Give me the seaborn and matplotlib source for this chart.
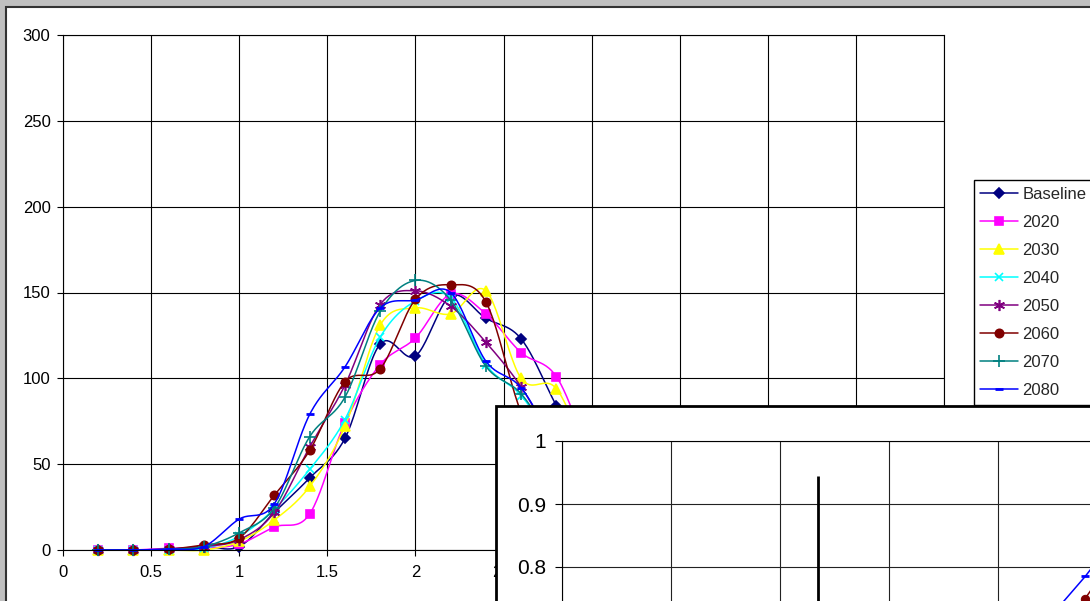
import numpy as np
import pandas as pd
import matplotlib
matplotlib.use("Agg")
import matplotlib.pyplot as plt
from matplotlib.patches import Rectangle
from matplotlib.lines import Line2D
import seaborn as sns

# ---------------- data ----------------
x_values = [0.2, 0.4, 0.6, 0.8, 1.0, 1.2, 1.4, 1.6, 1.8, 2.0, 2.2, 2.4, 2.6, 2.8, 3.0, 3.2, 3.4, 3.6]
baseline = [0, 0, 0.5, 2, 2, 22, 42, 65, 120, 113, 148, 135, 123, 84, 45, 20, 8, 2]
s2020 = [0, 0, 1, 1, 3.5, 13.4, 21, 74, 108, 123.5, 149, 137.5, 115, 101, 55, 25, 10, 3]
s2030 = [0, 0, 0, 0, 5, 17.5, 37, 72, 131, 141, 137.5, 151, 100, 94, 50, 22, 8, 2]
s2040 = [0, 0, 0, 1, 8, 24, 47, 76, 124, 145, 147, 108, 90, 60, 30, 12, 4, 1]
s2050 = [0, 0, 0.5, 2, 6, 22, 60, 96, 143, 151, 142, 121, 95, 60, 30, 12, 4, 1]
s2060 = [0, 0, 0.5, 3, 7, 32, 58, 98, 105.5, 146, 154.5, 144.5, 80, 40, 18, 7, 2, 0.5]
s2070 = [0, 0, 0.5, 2, 10, 24.5, 66, 89, 139, 157, 145.6, 107, 91, 60, 30, 12, 4, 1]
s2080 = [0, 0, 0.5, 2, 18, 27, 79, 106.6, 141, 145.6, 150, 110, 94.5, 60, 30, 12, 4, 1]

series_names = ["Baseline", "2020", "2030", "2040", "2050", "2060", "2070", "2080"]
series_values = [baseline, s2020, s2030, s2040, s2050, s2060, s2070, s2080]
series_colors = ["#000080", "#FF00FF", "#FFFF00", "#00FFFF", "#800080", "#800000", "#008080", "#0000FF"]
series_markers = ["D", "s", "^", "x", (6, 2, 0), "o", "+", "_"]
series_msizes = [5.5, 6, 7, 6, 8, 6, 8, 6]

x_ticks = [0, 0.5, 1, 1.5, 2, 2.5, 3, 3.5, 4, 4.5, 5]
x_tick_labels = ["0", "0.5", "1", "1.5", "2", "2.5", "3", "3.5", "4", "4.5", "5"]
y_ticks = [0, 50, 100, 150, 200, 250, 300]

inset_x_ticks = [0, 1, 2, 3, 4, 5, 6]
inset_y_ticks = [0.8, 0.9, 1.0]
inset_y_labels = ["0.8", "0.9", "1"]
inset_x_2080 = [4.4, 4.6, 4.8, 5.0, 5.2]
inset_y_2080 = [0.70, 0.745, 0.785, 0.83, 0.87]
inset_x_2060 = [4.6, 4.8, 5.0]
inset_y_2060 = [0.70, 0.75, 0.80]
inset_spike_x = [2.35]
inset_spike_top = [0.944]
inset_spike_bottom = [0.5]

# ---------------- helpers ----------------
W, H = 1090, 601


def smooth(xs, ys, n=24):
    P = np.column_stack([xs, ys]).astype(float)
    Pe = np.vstack([P[0], P, P[-1]])
    out = []
    t = np.linspace(0, 1, n, endpoint=False)[:, None]
    for i in range(len(P) - 1):
        p0, p1, p2, p3 = Pe[i], Pe[i + 1], Pe[i + 2], Pe[i + 3]
        c1 = p1 + (p2 - p0) / 6.0
        c2 = p2 - (p3 - p1) / 6.0
        b = (1 - t) ** 3 * p1 + 3 * (1 - t) ** 2 * t * c1 + 3 * (1 - t) * t ** 2 * c2 + t ** 3 * p2
        out.append(b)
    out.append(P[-1][None, :])
    S = np.vstack(out)
    return S[:, 0], S[:, 1]


def frac_rect(x0, y0_top, x1, y1_bottom):
    # pixel coords (top-left origin) -> figure fraction rect
    return (x0 / W, (H - y1_bottom) / H, (x1 - x0) / W, (y1_bottom - y0_top) / H)


# ---------------- figure ----------------
sns.set_theme(style="white")
plt.rcParams["font.family"] = ["Liberation Sans", "DejaVu Sans"]

fig = plt.figure(figsize=(W / 100, H / 100), dpi=100)
fig.patch.set_facecolor("#C0C0C0")

# white chart area
x0, y0, w0, h0 = frac_rect(5.5, 6.5, 1100, 620)
fig.add_artist(Rectangle((x0, y0), w0, h0, transform=fig.transFigure,
                         facecolor="white", edgecolor="#333333", lw=1.5, zorder=-5))

# main axes
ax = fig.add_axes(frac_rect(63, 35, 944, 550))
ax.set_zorder(0)
ax.set_facecolor("white")

for name, vals, c, m, ms in zip(series_names, series_values, series_colors, series_markers, series_msizes):
    sx, sy = smooth(x_values, vals)
    df = pd.DataFrame({"x": sx, "y": sy})
    sns.lineplot(data=df, x="x", y="y", ax=ax, color=c, lw=1.1, sort=False,
                 estimator=None, clip_on=False)
    mew = 2 if m == "_" else 1.2
    ax.plot(x_values, vals, ls="none", marker=m, ms=ms, color=c, mfc=c, mec=c,
            mew=mew, clip_on=False)

ax.set_xlim(0, 5)
ax.set_ylim(0, 300)
ax.set_xticks(x_ticks)
ax.set_xticklabels(x_tick_labels)
ax.set_yticks(y_ticks)
ax.set_xlabel("")
ax.set_ylabel("")
ax.grid(True, color="black", lw=0.8)
for sp in ax.spines.values():
    sp.set_visible(True)
    sp.set_color("black")
    sp.set_linewidth(0.8)
ax.tick_params(axis="both", which="major", bottom=True, left=True, direction="out",
               length=4, width=0.8, color="black", labelsize=12, labelcolor="black")
ax.tick_params(axis="x", pad=6.5)
ax.tick_params(axis="y", pad=5)

# legend box and legend
lx, ly, lw_, lh = frac_rect(974, 180, 1110, 405)
fig.add_artist(Rectangle((lx, ly), lw_, lh, transform=fig.transFigure,
                         facecolor="white", edgecolor="black", lw=1.0, zorder=4))
handles = []
for name, c, m, ms in zip(series_names, series_colors, series_markers, series_msizes):
    mew = 2 if m == "_" else 1.2
    handles.append(Line2D([0], [0], color=c, lw=1.1, marker=m, ms=ms, mfc=c, mec=c, mew=mew))
leg = fig.legend(handles, series_names, loc="upper left",
                 bbox_to_anchor=(980 / W, 1 - 187 / H), bbox_transform=fig.transFigure,
                 frameon=False, borderpad=0, borderaxespad=0, handlelength=2.3,
                 handletextpad=0.25, labelspacing=0.78, fontsize=12)
leg.set_zorder(6)

# inset frame
ix, iy, iw, ih = frac_rect(496, 406, 1120, 640)
fig.add_artist(Rectangle((ix, iy), iw, ih, transform=fig.transFigure,
                         facecolor="white", edgecolor="black", lw=2.0, zorder=7))

# inset axes
axi = fig.add_axes(frac_rect(562, 441, 562 + 109 * 6, 441 + 315))
axi.set_zorder(8)
axi.set_facecolor("white")
axi.set_xlim(0, 6)
axi.set_ylim(0.5, 1.0)
axi.set_xticks(inset_x_ticks)
axi.set_yticks(inset_y_ticks)
axi.set_yticklabels(inset_y_labels)
axi.grid(True, color="#222222", lw=0.8)
for sp in axi.spines.values():
    sp.set_visible(True)
    sp.set_color("black")
    sp.set_linewidth(0.8)
axi.tick_params(axis="both", left=True, bottom=True, direction="out", length=5,
                width=0.8, color="black", labelsize=15, labelcolor="black", pad=6.5)
axi.tick_params(axis="x", labelbottom=False)
axi.vlines(inset_spike_x, inset_spike_bottom, inset_spike_top, color="black", lw=2)
sns.lineplot(x=inset_x_2060, y=inset_y_2060, ax=axi, color="#800000", lw=1.1,
             marker="o", ms=6, mec="#800000", estimator=None, sort=False)
sns.lineplot(x=inset_x_2080, y=inset_y_2080, ax=axi, color="#0000FF", lw=1.1,
             marker="_", ms=6, mew=2, mec="#0000FF", estimator=None, sort=False)
axi.set_xlabel("")
axi.set_ylabel("")
if axi.get_legend() is not None:
    axi.get_legend().remove()

fig.savefig("out.png", dpi=100)
